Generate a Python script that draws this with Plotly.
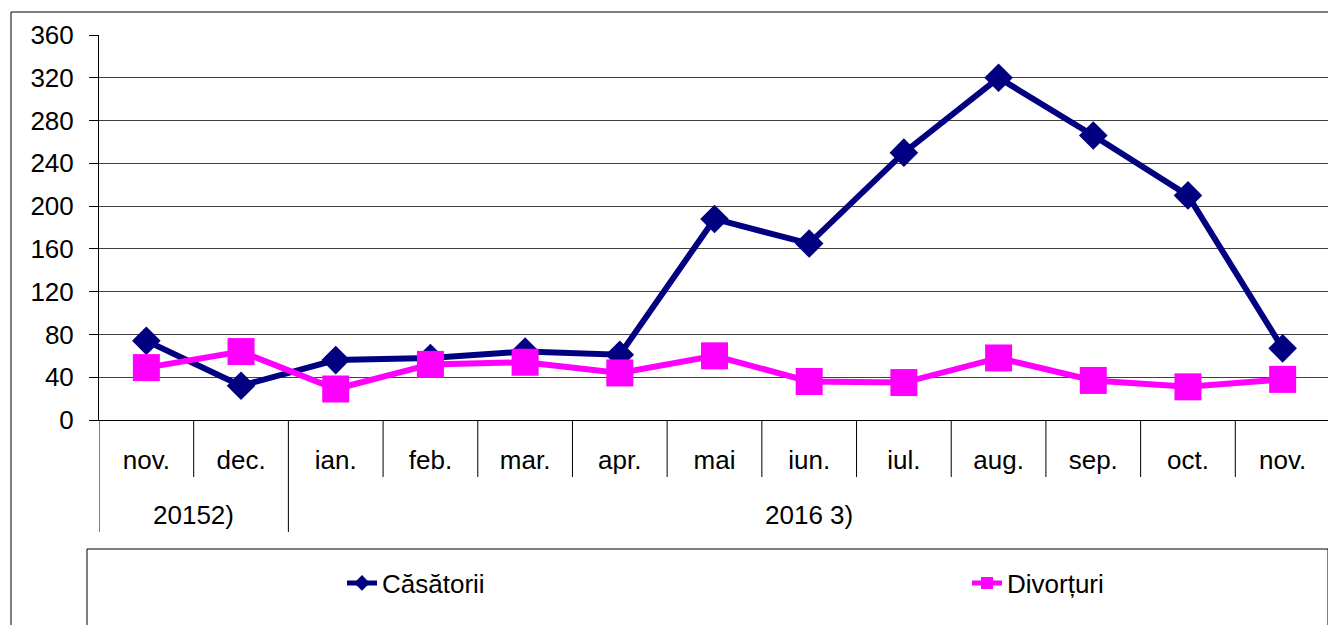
import plotly.graph_objects as go

months = ["nov.", "dec.", "ian.", "feb.", "mar.", "apr.", "mai", "iun.", "iul.", "aug.", "sep.", "oct.", "nov."]
years = ["20152)", "2016 3)"]
year_spans = [(0, 1), (2, 12)]
casatorii = [74, 32, 56, 58, 64, 61, 188, 165, 250, 320, 266, 210, 67]
divorturi = [49, 64, 29, 52, 54, 44, 60, 36, 35, 58, 37, 31, 38]
y_ticks = [0, 40, 80, 120, 160, 200, 240, 280, 320, 360]

FONT = "Liberation Sans, Arial, sans-serif"
OFF = 8  # page body margin
W, H = 1336 - OFF, 625 - OFF
ML, MT = 99 - OFF, 35 - OFF
PW, PH = 1231, 385
MR = W - ML - PW
MB = H - MT - PH


def px_x(px):
    return (px - OFF - ML) / PW


def px_y(py):
    return (H - MB - (py - OFF)) / PH


idx = list(range(len(months)))

fig = go.Figure()
fig.add_trace(go.Scatter(
    x=idx, y=casatorii, name="Căsătorii", mode="lines+markers",
    line=dict(color="#000080", width=6),
    marker=dict(symbol="diamond", size=22, color="#000080"),
    legend="legend",
))
fig.add_trace(go.Scatter(
    x=idx, y=divorturi, name="Divorțuri", mode="lines+markers",
    line=dict(color="#FF00FF", width=6),
    marker=dict(symbol="square", size=27, color="#FF00FF"),
    legend="legend2",
))

shapes = []
# outer chart border
shapes.append(dict(type="rect", xref="paper", yref="paper",
                   x0=px_x(11), x1=px_x(1345), y0=px_y(640), y1=px_y(12),
                   line=dict(color="black", width=1), layer="below"))
# legend box
shapes.append(dict(type="rect", xref="paper", yref="paper",
                   x0=px_x(87), x1=px_x(1328), y0=px_y(640), y1=px_y(549),
                   line=dict(color="black", width=1), layer="below"))
# right plot border
shapes.append(dict(type="line", xref="paper", yref="paper",
                   x0=1, x1=1, y0=0, y1=1, line=dict(color="#808080", width=2)))
# month dividers
for i in range(len(months) + 1):
    shapes.append(dict(type="line", xref="x", yref="paper",
                       x0=i - 0.5, x1=i - 0.5, y0=0, y1=px_y(477),
                       line=dict(color="black", width=1)))
# year dividers
bounds = sorted(set([s - 0.5 for s, e in year_spans] + [e + 0.5 for s, e in year_spans]))
for b in bounds:
    shapes.append(dict(type="line", xref="x", yref="paper",
                       x0=b, x1=b, y0=px_y(477), y1=px_y(532),
                       line=dict(color="black", width=1)))

annotations = []
for (s, e), label in zip(year_spans, years):
    annotations.append(dict(x=(s + e) / 2, y=px_y(515), xref="x", yref="paper",
                            text=label, showarrow=False,
                            font=dict(family=FONT, size=26, color="black"),
                            xanchor="center", yanchor="middle"))

legend_font = dict(family=FONT, size=26, color="black")
fig.update_layout(
    width=W, height=H,
    margin=dict(l=ML, r=MR, t=MT, b=MB, autoexpand=False),
    paper_bgcolor="white", plot_bgcolor="white",
    font=dict(family=FONT, size=26, color="black"),
    shapes=shapes, annotations=annotations,
    showlegend=True,
    legend=dict(x=px_x(383 - 41), xanchor="left",
                y=px_y(583), yanchor="middle",
                font=legend_font, bgcolor="rgba(0,0,0,0)", itemsizing="constant"),
    legend2=dict(x=px_x(1008 - 41), xanchor="left",
                 y=px_y(583), yanchor="middle",
                 font=legend_font, bgcolor="rgba(0,0,0,0)", itemsizing="constant"),
    xaxis=dict(range=[-0.5, len(months) - 0.5], tickmode="array",
               tickvals=idx, ticktext=months, ticks="",
               showgrid=False, zeroline=False,
               showline=True, linecolor="black", linewidth=1,
               ticklabelstandoff=17,
               tickfont=dict(family=FONT, size=26, color="black")),
    yaxis=dict(range=[0, 360], tickmode="array", tickvals=y_ticks,
               showgrid=True, gridcolor="#404040", gridwidth=1,
               zeroline=False, showline=True, linecolor="black", linewidth=1,
               ticks="outside", ticklen=9, tickcolor="black",
               ticklabelstandoff=10,
               tickfont=dict(family=FONT, size=26, color="black")),
)

fig.write_html("out.html")
